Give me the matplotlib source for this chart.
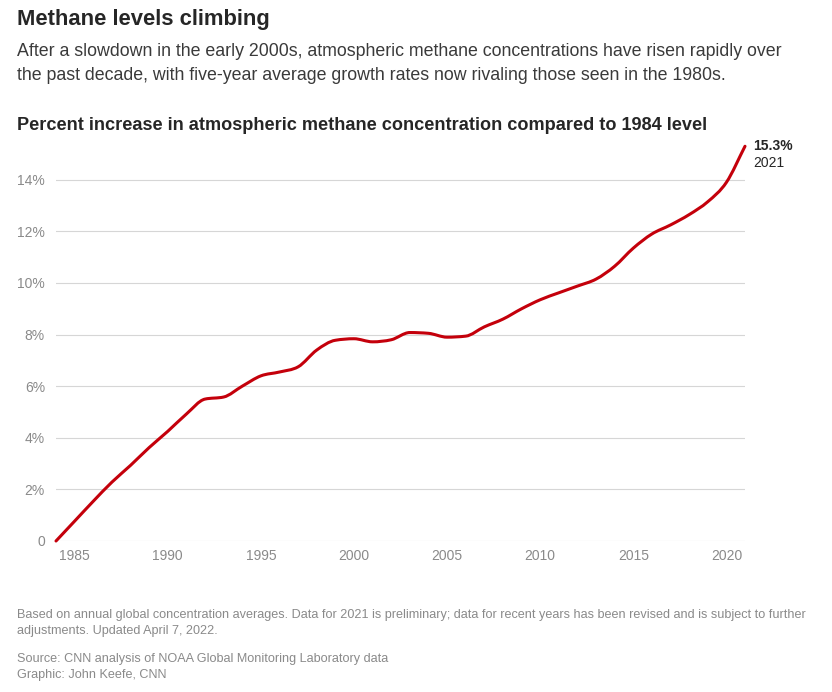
import matplotlib
matplotlib.use("Agg")
from matplotlib import pyplot as plt
from matplotlib.path import Path
from matplotlib.patches import PathPatch

# percent increase vs 1984
years = list(range(1984, 2022))
pct = [0.0, 0.77, 1.54, 2.28, 2.93, 3.62, 4.25, 4.92, 5.5, 5.58, 6.0, 6.4,
       6.55, 6.75, 7.4, 7.78, 7.84, 7.72, 7.8, 8.08, 8.05, 7.9, 7.94, 8.3,
       8.6, 9.0, 9.35, 9.62, 9.88, 10.15, 10.65, 11.35, 11.9, 12.25, 12.65,
       13.15, 13.9, 15.3]
yticks = [0, 2, 4, 6, 8, 10, 12, 14]
ytick_labels = ['0', '2%', '4%', '6%', '8%', '10%', '12%', '14%']
xticks = [1985, 1990, 1995, 2000, 2005, 2010, 2015, 2020]

RED = '#c4000b'
GRAY = '#8a8a8a'
DARK = '#262626'

plt.rcParams['font.family'] = ['Liberation Sans', 'DejaVu Sans']


def monotone_path(xs, ys):
    # same idea as d3.curveMonotoneX: cubic bezier segments between the points
    n = len(xs)
    d = [(ys[i + 1] - ys[i]) / (xs[i + 1] - xs[i]) for i in range(n - 1)]
    m = [0.0] * n
    m[0], m[-1] = d[0], d[-1]
    for i in range(1, n - 1):
        if d[i - 1] * d[i] <= 0:
            m[i] = 0.0
        else:
            h0, h1 = xs[i] - xs[i - 1], xs[i + 1] - xs[i]
            p = (d[i - 1] * h1 + d[i] * h0) / (h0 + h1)
            s = 2 * min(abs(d[i - 1]), abs(d[i]), 0.5 * abs(p))
            m[i] = s if p > 0 else -s
    verts = [(xs[0], ys[0])]
    codes = [Path.MOVETO]
    for i in range(n - 1):
        h = (xs[i + 1] - xs[i]) / 3
        verts += [(xs[i] + h, ys[i] + m[i] * h),
                  (xs[i + 1] - h, ys[i + 1] - m[i + 1] * h),
                  (xs[i + 1], ys[i + 1])]
        codes += [Path.CURVE4] * 3
    return Path(verts, codes)


W, H = 832, 692
fig = plt.figure(figsize=(W / 100, H / 100), dpi=100)
fig.patch.set_facecolor('white')

ax = fig.add_axes([56 / W, (H - 541) / H, (745 - 56) / W, (15.5 * 25.8) / H])
ax.set_xlim(1984, 2021)
ax.set_ylim(0, 15.5)

for t in yticks:
    ax.axhline(t, color='#d6d6d6', lw=0.8, zorder=1)

line = PathPatch(monotone_path(years, pct), facecolor='none', edgecolor=RED,
                 lw=2.2, capstyle='round', joinstyle='round', zorder=3,
                 clip_on=False)
ax.add_patch(line)

for s in ax.spines.values():
    s.set_visible(False)
ax.set_yticks(yticks)
ax.set_yticklabels(ytick_labels)
ax.set_xticks(xticks)
ax.set_xticklabels([str(x) for x in xticks])
ax.tick_params(axis='both', length=0, colors=GRAY, labelsize=10)
ax.tick_params(axis='y', pad=8)
ax.tick_params(axis='x', pad=6)
ax.set_facecolor('none')

# end label
ax.annotate('15.3%', xy=(years[-1], pct[-1]), xytext=(6, 0),
            textcoords='offset points', fontsize=10, fontweight='bold',
            color=DARK, va='center', ha='left', annotation_clip=False)
ax.annotate('2021', xy=(years[-1], pct[-1]), xytext=(6, -12),
            textcoords='offset points', fontsize=10,
            color=DARK, va='center', ha='left', annotation_clip=False)

# headings
fig.text(17 / W, 1 - 19 / H, 'Methane levels climbing', fontsize=15.8,
         fontweight='bold', color=DARK, va='center', ha='left')
fig.text(17 / W, 1 - 51 / H,
         'After a slowdown in the early 2000s, atmospheric methane concentrations have risen rapidly over',
         fontsize=12.8, color='#3a3a3a', va='center', ha='left')
fig.text(17 / W, 1 - 76 / H,
         'the past decade, with five-year average growth rates now rivaling those seen in the 1980s.',
         fontsize=12.8, color='#3a3a3a', va='center', ha='left')
fig.text(17 / W, 1 - 125 / H,
         'Percent increase in atmospheric methane concentration compared to 1984 level',
         fontsize=13.1, fontweight='bold', color=DARK, va='center', ha='left')

# footnotes
notes = [
    (615, 'Based on annual global concentration averages. Data for 2021 is preliminary; data for recent years has been revised and is subject to further'),
    (631, 'adjustments. Updated April 7, 2022.'),
    (659, 'Source: CNN analysis of NOAA Global Monitoring Laboratory data'),
    (675, 'Graphic: John Keefe, CNN'),
]
for ypx, txt in notes:
    fig.text(17 / W, 1 - ypx / H, txt, fontsize=9.05, color=GRAY,
             va='center', ha='left')

fig.savefig('out.png', dpi=100, facecolor='white')
